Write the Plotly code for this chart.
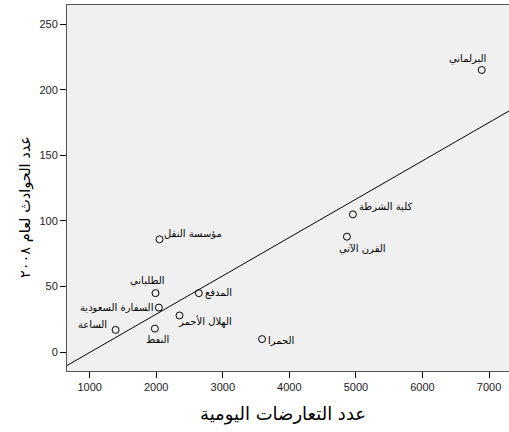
import numpy as np
import plotly.graph_objects as go

# Daily conflicts (x) vs. number of incidents in 2008 (y), per location
locations = ["البرلماني", "مؤسسة النقل", "الطلياني", "السفارة السعودية", "المدفع",
             "الهلال الأحمر", "النفط", "الساعة", "الحمرا", "كلية الشرطة", "القرن الآتي"]
daily_conflicts = [6890, 2050, 1990, 2040, 2640, 2350, 1980, 1390, 3590, 4955, 4865]
incidents_2008 = [215, 86, 45, 34, 45, 28, 18, 17, 10, 105, 88]

x_ticks = [1000, 2000, 3000, 4000, 5000, 6000, 7000]
y_ticks = [0, 50, 100, 150, 200, 250]

x_title = "عدد التعارضات اليومية"
y_title = "عدد الحوادث لعام ٢٠٠٨"

# label placement around each marker (pixel shifts)
label_dx = [-14, 33, -8, -42, 20, 25, 3, -23, 19, 33, 16]
label_dy = [11, 6, 12, 0, 0, -6, -11, 5, -1, 8, -12]

x_range = [660, 7300]
y_range = [-14.3, 264.5]

# least-squares fit line
slope, intercept = np.polyfit(daily_conflicts, incidents_2008, 1)
fit_x = np.array(x_range)
fit_y = slope * fit_x + intercept

arabic_font = "DejaVu Sans"

fig = go.Figure()
fig.add_trace(go.Scatter(
    x=fit_x, y=fit_y, mode="lines",
    line=dict(color="black", width=1), hoverinfo="skip", showlegend=False,
))
fig.add_trace(go.Scatter(
    x=daily_conflicts, y=incidents_2008, mode="markers",
    marker=dict(symbol="circle-open", size=7, color="black", line=dict(width=1)),
    showlegend=False,
))

for name, xv, yv, dx, dy in zip(locations, daily_conflicts, incidents_2008, label_dx, label_dy):
    fig.add_annotation(
        x=xv, y=yv, text=name, showarrow=False,
        xshift=dx, yshift=dy,
        font=dict(family=arabic_font, size=10, color="black"),
    )

# axis titles
fig.add_annotation(
    xref="paper", yref="paper", x=0.5, xshift=-5, y=0, yshift=-43, yanchor="middle",
    text=x_title, showarrow=False,
    font=dict(family=arabic_font, size=18, color="black"),
)
fig.add_annotation(
    xref="paper", yref="paper", x=0, xshift=-42, xanchor="center", y=0.448,
    text=y_title, textangle=-90, showarrow=False,
    font=dict(family=arabic_font, size=14.5, color="black"),
)

axis_common = dict(
    showgrid=False, zeroline=False,
    showline=True, linecolor="#555555", linewidth=1, mirror=True,
    ticks="outside", ticklen=6, tickcolor="black", tickwidth=1,
    tickfont=dict(family="Liberation Sans, Arial", size=11, color="#222222"),
)

fig.update_layout(
    width=509, height=432,
    margin=dict(l=67, r=0, t=5, b=61),
    paper_bgcolor="white", plot_bgcolor="#f0f0f0",
    xaxis=dict(range=x_range, tickvals=x_ticks, **axis_common),
    yaxis=dict(range=y_range, tickvals=y_ticks, **axis_common),
)

fig.write_html("out.html")
